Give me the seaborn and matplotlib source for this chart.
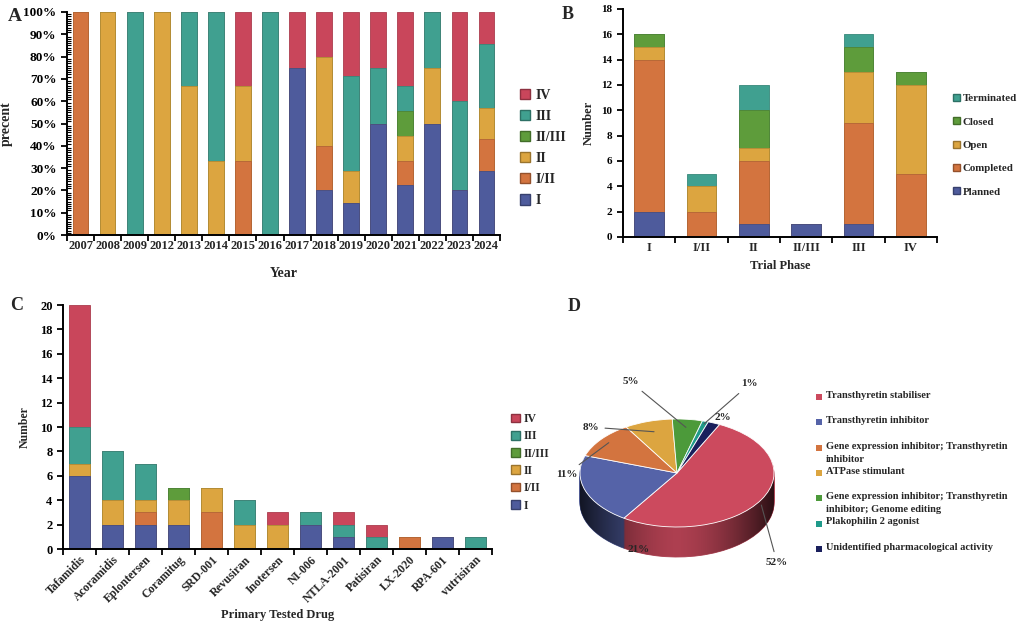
import numpy as np
import pandas as pd
import seaborn as sns
import matplotlib.pyplot as plt
from matplotlib.patches import Patch, Rectangle, PathPatch
from matplotlib.path import Path
from matplotlib.ticker import MultipleLocator, PercentFormatter
from matplotlib.colors import to_rgb

sns.set_theme(style="ticks")
plt.rcParams['font.family'] = ['Liberation Serif', 'DejaVu Serif']
plt.rcParams['font.weight'] = 'bold'
plt.rcParams['axes.labelweight'] = 'bold'

# ---- data ----
phases = ["I", "I/II", "II", "II/III", "III", "IV"]
phase_colors = ["#4e5b9c", "#d3743f", "#dca540", "#5e9c3b", "#40a090", "#c9465b"]

# A: trials per start year, by phase (counts -> shown as percent)
years = ["2007", "2008", "2009", "2012", "2013", "2014", "2015", "2016",
         "2017", "2018", "2019", "2020", "2021", "2022", "2023", "2024"]
year_I      = [0, 0, 0, 0, 0, 0, 0, 0, 3, 1, 1, 2, 2, 2, 1, 2]
year_I_II   = [1, 0, 0, 0, 0, 0, 1, 0, 0, 1, 0, 0, 1, 0, 0, 1]
year_II     = [0, 1, 0, 1, 2, 1, 1, 0, 0, 2, 1, 0, 1, 1, 0, 1]
year_II_III = [0, 0, 0, 0, 0, 0, 0, 0, 0, 0, 0, 0, 1, 0, 0, 0]
year_III    = [0, 0, 1, 0, 1, 2, 0, 1, 0, 0, 3, 1, 1, 1, 2, 2]
year_IV     = [0, 0, 0, 0, 0, 0, 1, 0, 1, 1, 2, 1, 3, 0, 2, 1]

# B: trial phase by status
trial_phases = ["I", "I/II", "II", "II/III", "III", "IV"]
statuses = ["Planned", "Completed", "Open", "Closed", "Terminated"]
status_colors = ["#4e5b9c", "#d3743f", "#dca540", "#5e9c3b", "#40a090"]
st_planned    = [2, 0, 1, 1, 1, 0]
st_completed  = [12, 2, 5, 0, 8, 5]
st_open       = [1, 2, 1, 0, 4, 7]
st_closed     = [1, 0, 3, 0, 2, 1]
st_terminated = [0, 1, 2, 0, 1, 0]

# C: primary tested drug by phase
drugs = ["Tafamidis", "Acoramidis", "Eplontersen", "Coramitug", "SRD-001",
         "Revusiran", "Inotersen", "NI-006", "NTLA-2001", "Patisiran",
         "LX-2020", "RPA-601", "vutrisiran"]
drug_I      = [6, 2, 2, 2, 0, 0, 0, 2, 1, 0, 0, 1, 0]
drug_I_II   = [0, 0, 1, 0, 3, 0, 0, 0, 0, 0, 1, 0, 0]
drug_II     = [1, 2, 1, 2, 2, 2, 2, 0, 0, 0, 0, 0, 0]
drug_II_III = [0, 0, 0, 1, 0, 0, 0, 0, 0, 0, 0, 0, 0]
drug_III    = [3, 4, 3, 0, 0, 2, 0, 1, 1, 1, 0, 0, 1]
drug_IV     = [10, 0, 0, 0, 0, 0, 1, 0, 1, 1, 0, 0, 0]

# D: mechanism of action
mechanisms = ["Transthyretin stabiliser", "Transthyretin inhibitor",
              "Gene expression inhibitor; Transthyretin\ninhibitor",
              "ATPase stimulant",
              "Gene expression inhibitor; Transthyretin\ninhibitor; Genome editing",
              "Plakophilin 2 agonist", "Unidentified pharmacological activity"]
mech_pct = [52, 21, 11, 8, 5, 1, 2]
mech_colors = ["#cc4a5e", "#5563a8", "#d3743f", "#dca540", "#4c9a3a", "#1f9a8a", "#1a1f5c"]

W, H = 1022, 626


def dark(c, f=0.8):
    return tuple(np.array(to_rgb(c)) * f)


def stacked(ax, cats, layers, colors, width):
    cum = np.cumsum(np.array(layers, dtype=float), axis=0)
    for vals, c in zip(cum[::-1], colors[::-1]):
        df = pd.DataFrame({"cat": cats, "val": vals})
        sns.barplot(data=df, x="cat", y="val", order=cats, color=c, width=width,
                    saturation=1, edgecolor=dark(c, 0.85), linewidth=0.6,
                    errorbar=None, ax=ax)
    n = len(cats)
    ax.set_xticks(np.arange(n + 1) - 0.5, labels=[""] * (n + 1))
    ax.set_xlim(-0.5, n - 0.5)
    ax.set_xlabel("")
    ax.set_ylabel("")
    sns.despine(ax=ax)
    for s in ("left", "bottom"):
        ax.spines[s].set_color("black")
        ax.spines[s].set_linewidth(1.4)
    ax.tick_params(axis="both", which="major", colors="black", width=1.3, length=4)
    ax.tick_params(axis="x", which="minor", length=0)


def box(px_left, px_top, px_right, px_bottom):
    return [px_left / W, 1 - px_bottom / H, (px_right - px_left) / W, (px_bottom - px_top) / H]


fig = plt.figure(figsize=(W / 100, H / 100), dpi=100)

# ---- A ----
axA = fig.add_axes(box(67, 12, 500, 235))
countsA = np.array([year_I, year_I_II, year_II, year_II_III, year_III, year_IV], dtype=float)
shareA = countsA / countsA.sum(axis=0)
stacked(axA, years, shareA, phase_colors, 0.58)
axA.set_xticks(np.arange(len(years)), labels=years, minor=True, fontsize=9, fontweight="bold")
axA.set_ylim(0, 1)
axA.yaxis.set_major_locator(MultipleLocator(0.1))
axA.yaxis.set_major_formatter(PercentFormatter(1, decimals=0))
axA.yaxis.set_minor_locator(MultipleLocator(0.01))
axA.tick_params(axis="y", which="minor", direction="in", length=3, width=0.8, colors="black")
axA.tick_params(axis="y", which="major", labelsize=9.5)
axA.set_ylabel("precent", fontsize=10)
axA.yaxis.set_label_coords(-0.125, 0.5)
axA.set_xlabel("Year", fontsize=10, va="top")
axA.xaxis.set_label_coords(0.5, -0.145)
fig.legend(handles=[Patch(facecolor=c, edgecolor=dark(c, 0.7)) for c in phase_colors[::-1]],
           labels=phases[::-1], loc="upper left", bbox_to_anchor=(520 / W, 1 - 89 / H),
           frameon=False, borderpad=0, borderaxespad=0, handlelength=0.75, handleheight=0.75,
           handletextpad=0.35, labelspacing=0.58, prop={"size": 10, "weight": "bold"})
fig.text(8 / W, 1 - 21 / H, "A", fontsize=14, fontweight="bold")

# ---- B ----
axB = fig.add_axes(box(623, 9, 937, 237))
stacked(axB, trial_phases, [st_planned, st_completed, st_open, st_closed, st_terminated],
        status_colors, 0.57)
axB.set_xticks(np.arange(len(trial_phases)), labels=trial_phases, minor=True,
               fontsize=9, fontweight="bold")
axB.set_ylim(0, 18)
axB.yaxis.set_major_locator(MultipleLocator(2))
axB.tick_params(axis="y", which="major", labelsize=8)
axB.set_ylabel("Number", fontsize=9)
axB.yaxis.set_label_coords(-0.09, 0.5)
axB.set_xlabel("Trial Phase", fontsize=9, va="top")
axB.xaxis.set_label_coords(0.5, -0.1)
fig.legend(handles=[Patch(facecolor=c, edgecolor=dark(c, 0.7)) for c in status_colors[::-1]],
           labels=statuses[::-1], loc="upper left", bbox_to_anchor=(953 / W, 1 - 94 / H),
           frameon=False, borderpad=0, borderaxespad=0, handlelength=0.6, handleheight=0.6,
           handletextpad=0.3, labelspacing=1.3, prop={"size": 7.8, "weight": "bold"})
fig.text(562 / W, 1 - 19 / H, "B", fontsize=13, fontweight="bold")

# ---- C ----
axC = fig.add_axes(box(63, 305, 492, 549))
stacked(axC, drugs, [drug_I, drug_I_II, drug_II, drug_II_III, drug_III, drug_IV],
        phase_colors, 0.62)
axC.set_xticks(np.arange(len(drugs)), labels=drugs, minor=True, fontsize=8.5,
               fontweight="bold", rotation=45, ha="right", rotation_mode="anchor")
axC.set_ylim(0, 20)
axC.yaxis.set_major_locator(MultipleLocator(2))
axC.tick_params(axis="y", which="major", labelsize=9)
axC.set_ylabel("Number", fontsize=8.5)
axC.yaxis.set_label_coords(-0.075, 0.5)
axC.set_xlabel("Primary Tested Drug", fontsize=9, va="top")
axC.xaxis.set_label_coords(0.5, -0.245)
fig.legend(handles=[Patch(facecolor=c, edgecolor=dark(c, 0.7)) for c in phase_colors[::-1]],
           labels=phases[::-1], loc="upper left", bbox_to_anchor=(511 / W, 1 - 413 / H),
           frameon=False, borderpad=0, borderaxespad=0, handlelength=0.75, handleheight=0.75,
           handletextpad=0.35, labelspacing=0.45, prop={"size": 8.5, "weight": "bold"})
fig.text(10 / W, 1 - 310 / H, "C", fontsize=13, fontweight="bold")

# ---- D (pseudo 3D pie) ----
cx, cy, rx, ry = 677, 473, 97, 54
px0, px1, py0, py1 = 560, 800, 370, 600
axD = fig.add_axes(box(px0, py0, px1, py1))
depth = 30 / ry
side_colors = [dark(c, 0.85) for c in mech_colors]
for d in np.linspace(depth, 0.02, 30):
    ws, _ = axD.pie(mech_pct, colors=side_colors, startangle=64, counterclock=False,
                    center=(0, -d), wedgeprops=dict(linewidth=0.6))
    for w in ws:
        w.set_edgecolor(w.get_facecolor())

# shade the side wall darker toward the left and right rims
t = np.linspace(np.pi, 2 * np.pi, 120)
rim = np.column_stack([np.cos(t), np.sin(t)])
wall = np.vstack([rim, rim[::-1] - [0, depth]])
wall_path = PathPatch(Path(wall), facecolor="none", edgecolor="none")
axD.add_patch(wall_path)
gx = np.linspace(-1, 1, 200)
alpha = 0.75 * np.abs(gx) ** 1.6
shade = np.zeros((1, gx.size, 4))
shade[..., 3] = alpha
img = axD.imshow(shade, extent=(-1, 1, -1 - depth, 0.2), aspect="auto",
                 interpolation="bilinear", zorder=1.5)
img.set_clip_path(wall_path)

wedges, _ = axD.pie(mech_pct, colors=mech_colors, startangle=64, counterclock=False,
                    wedgeprops=dict(edgecolor="white", linewidth=0.6, zorder=2))
axD.set_aspect("auto")
axD.set_xlim((px0 - cx) / rx, (px1 - cx) / rx)
axD.set_ylim((cy - py1) / ry, (cy - py0) / ry)
axD.axis("off")

# label text spots (data units) and where the leader touches the wedge
label_xy = [(1.03, -1.65), (-0.40, -1.41), (-1.14, -0.02), (-0.89, 0.85),
            (-0.48, 1.69), (0.75, 1.65), (0.47, 1.02)]
leader_r = [1.0, None, 0.9, 0.8, 0.85, 0.95, None]
for w, pct, (tx, ty), lr in zip(wedges, mech_pct, label_xy, leader_r):
    mid = np.deg2rad((w.theta1 + w.theta2) / 2)
    if lr is None:
        axD.text(tx, ty, f"{pct}%", ha="center", va="center", fontsize=8,
                 fontweight="bold", zorder=5)
    else:
        ax_, ay_ = lr * np.cos(mid), lr * np.sin(mid)
        if lr >= 1.0:
            ay_ -= 0.1
        axD.annotate(f"{pct}%", xy=(ax_, ay_), xytext=(tx, ty), ha="center", va="center",
                     fontsize=8, fontweight="bold", zorder=5,
                     arrowprops=dict(arrowstyle="-", color="#555555", lw=0.8,
                                     shrinkA=2, shrinkB=0))

for i, (lab, c) in enumerate(zip(mechanisms, mech_colors)):
    yc = 397 + 25.3 * i
    fig.add_artist(Rectangle((816 / W, 1 - (yc + 3) / H), 6 / W, 6 / H,
                             transform=fig.transFigure, facecolor=c, edgecolor="none"))
    fig.text(826 / W, 1 - (yc - 6) / H, lab, ha="left", va="top", fontsize=7.5,
             fontweight="bold", linespacing=1.6)
fig.text(568 / W, 1 - 311 / H, "D", fontsize=13, fontweight="bold")

fig.savefig("out.png", dpi=100)
